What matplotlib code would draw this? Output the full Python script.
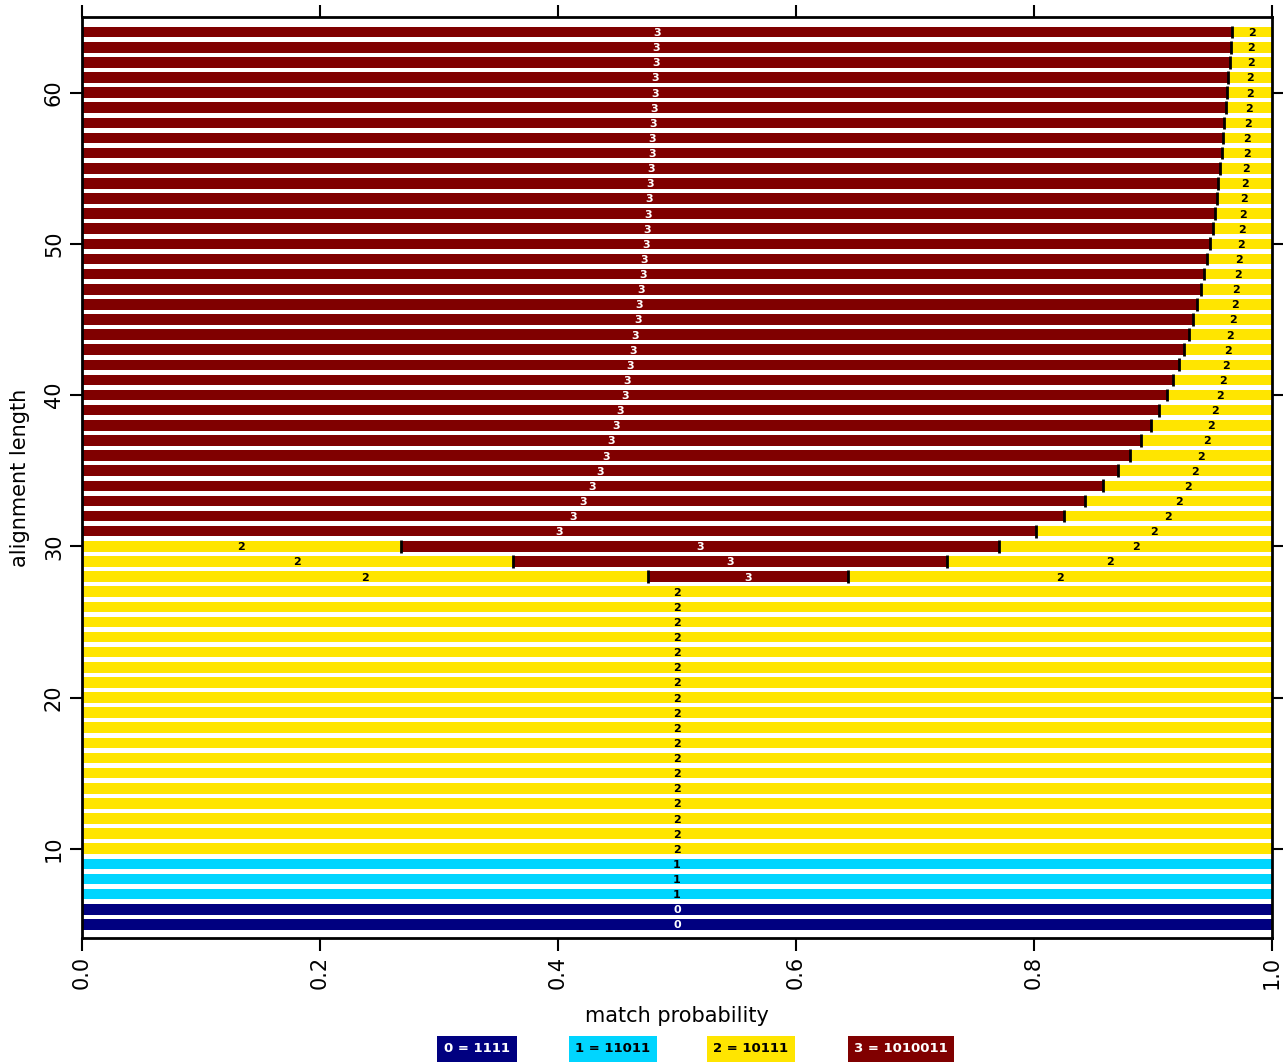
import matplotlib
matplotlib.use("Agg")
import matplotlib.pyplot as plt
import numpy as np

# ---- data ----
class_names = ["0 = 1111", "1 = 11011", "2 = 10111", "3 = 1010011"]
class_colors = ["#000080", "#00D5FF", "#FFE500", "#800000"]
class_text_colors = ["white", "black", "black", "white"]

full0_lengths = [5, 6]
full1_lengths = [7, 8, 9]
full2_lengths = list(range(10, 28))

mixed_lengths = [28, 29, 30]
mixed_red_start = [0.476, 0.362, 0.268]
mixed_red_end = [0.644, 0.727, 0.771]

red_lengths = list(range(31, 65))
red_share = [0.802, 0.825, 0.843, 0.858, 0.871, 0.881, 0.890, 0.898, 0.905, 0.912,
             0.917, 0.922, 0.926, 0.930, 0.934, 0.937, 0.940, 0.943, 0.945, 0.948,
             0.950, 0.952, 0.9535, 0.955, 0.956, 0.9577, 0.9588, 0.960, 0.9613, 0.9625,
             0.9633, 0.9644, 0.9655, 0.9668]

# ---- build segments: (length, class, start, end) ----
segments = []
for L in full0_lengths:
    segments.append((L, 0, 0.0, 1.0))
for L in full1_lengths:
    segments.append((L, 1, 0.0, 1.0))
for L in full2_lengths:
    segments.append((L, 2, 0.0, 1.0))
for L, s, e in zip(mixed_lengths, mixed_red_start, mixed_red_end):
    segments.append((L, 2, 0.0, s))
    segments.append((L, 3, s, e))
    segments.append((L, 2, e, 1.0))
for L, p in zip(red_lengths, red_share):
    segments.append((L, 3, 0.0, p))
    segments.append((L, 2, p, 1.0))

fig = plt.figure(figsize=(12.83, 10.63), dpi=100)
ax = fig.add_axes([82/1283, 1 - 938/1063, (1272-82)/1283, (938-17)/1063])

bar_h = 0.7
for L, c, s, e in segments:
    ax.barh(L, e - s, left=s, height=bar_h, color=class_colors[c], edgecolor="none")
    ax.text((s + e) / 2, L, str(c), ha="center", va="center_baseline", fontsize=8,
            fontweight="bold", color=class_text_colors[c])

# boundary markers
for L, c, s, e in segments:
    if s > 0:
        ax.plot([s, s], [L - 0.42, L + 0.42], color="black", lw=2, solid_capstyle="butt")

ax.set_xlim(0, 1)
ax.set_ylim(4.1, 65.0)
ax.set_xticks([0, 0.2, 0.4, 0.6, 0.8, 1.0])
ax.set_xticklabels(["0.0", "0.2", "0.4", "0.6", "0.8", "1.0"], rotation=90, fontsize=15)
ax.set_yticks([10, 20, 30, 40, 50, 60])
ax.set_yticklabels(["10", "20", "30", "40", "50", "60"], rotation=90, va="center", fontsize=15)
ax.tick_params(axis="both", direction="out", length=9, width=1.5, top=True, right=True, pad=4)
for sp in ax.spines.values():
    sp.set_linewidth(2)
ax.set_xlabel("match probability", fontsize=15, labelpad=12)
ax.set_ylabel("alignment length", fontsize=15, labelpad=10)

# legend boxes
legend_x = [477, 613, 751, 901]
for i, name in enumerate(class_names):
    fig.text(legend_x[i] / 1283, 1 - 1049 / 1063, name, ha="center", va="center",
             fontsize=9.5, fontweight="bold", color=class_text_colors[i],
             bbox=dict(boxstyle="square,pad=0.5", facecolor=class_colors[i], edgecolor="none"))

fig.savefig("out.png", dpi=100)
